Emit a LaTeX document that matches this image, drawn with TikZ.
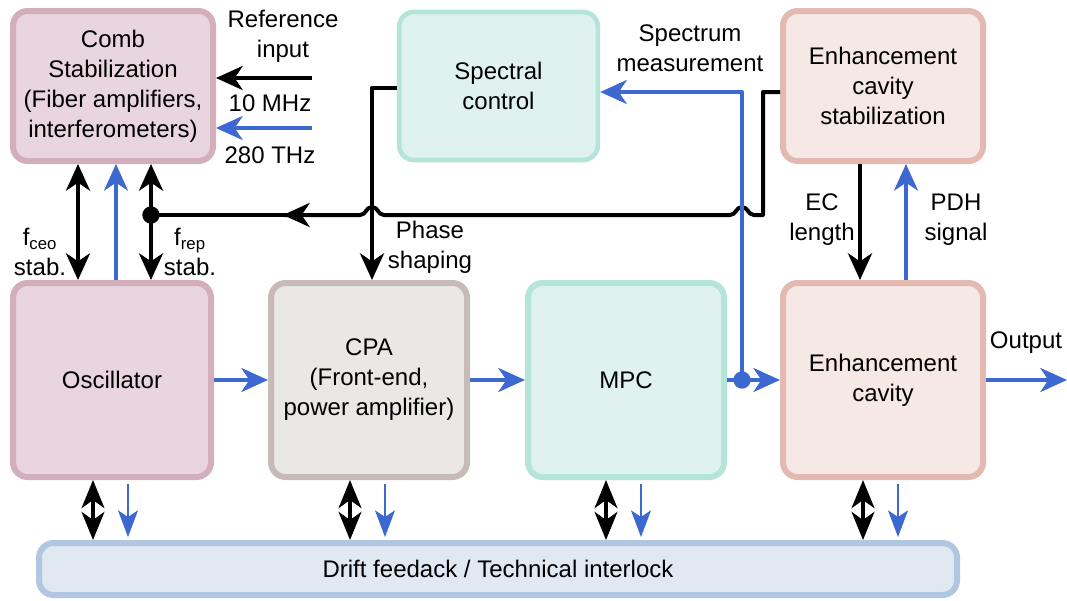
\documentclass[tikz,border=0pt]{standalone}
\usepackage{fontspec}
\setmainfont{Liberation Sans}
\usetikzlibrary{arrows.meta, positioning, calc}

\definecolor{combfill}{HTML}{E8D5DD}
\definecolor{combline}{HTML}{D5AEBE}
\definecolor{tealfill}{HTML}{DFF2EE}
\definecolor{tealline}{HTML}{B5E4D8}
\definecolor{ecfill}{HTML}{F5E8E5}
\definecolor{ecline}{HTML}{E3BAB1}
\definecolor{cpafill}{HTML}{E9E8E6}
\definecolor{cpaline}{HTML}{C7BBB9}
\definecolor{driftfill}{HTML}{E0E8F2}
\definecolor{driftline}{HTML}{B1C6E0}
\definecolor{sigblue}{HTML}{3D68D0}

\tikzset{
  box/.style={draw, rounded corners=11pt, line width=4.5pt, align=center,
    inner sep=0pt, font=\fontsize{18}{22.5}\selectfont},
  lbl/.style={align=center, inner sep=0pt, font=\fontsize{18}{22.5}\selectfont},
  blk/.style={line width=3pt, -{Stealth[length=20pt,width=18pt,inset=6pt]}},
  blkboth/.style={line width=3pt, {Stealth[length=20pt,width=18pt,inset=6pt]}-{Stealth[length=20pt,width=18pt,inset=6pt]}},
  blu/.style={sigblue, line width=2.5pt, -{Stealth[length=20pt,width=18pt,inset=6pt]}},
  bluthin/.style={sigblue, line width=1.5pt, -{Stealth[length=20pt,width=15pt,inset=5pt]}},
  drift/.style={line width=3pt, {Stealth[length=21pt,width=17pt,inset=6pt]}-{Stealth[length=21pt,width=17pt,inset=6pt]}},
}

\begin{document}
\begin{tikzpicture}[x=0.75pt, y=-0.75pt]
\useasboundingbox (0,0) rectangle (1067,600);

% Blocks
\node[box, draw=combline, fill=combfill, minimum width=150pt, minimum height=112.5pt] (comb) at (113,86)
  {Comb\\Stabilization\\(Fiber amplifiers,\\interferometers)};
\node[box, line width=3.5pt, draw=tealline, fill=tealfill, minimum width=149pt, minimum height=111pt] (spec) at (498.5,86)
  {Spectral\\control};
\node[box, draw=ecline, fill=ecfill, minimum width=150pt, minimum height=112.5pt] (ecs) at (883,86)
  {Enhancement\\cavity\\stabilization};
\node[box, draw=combline, fill=combfill, minimum width=148.5pt, minimum height=145.5pt] (osc) at (112,380)
  {Oscillator};
\node[box, draw=cpaline, fill=cpafill, minimum width=147pt, minimum height=145.5pt] (cpa) at (369,380)
  {CPA\\(Front-end,\\power amplifier)};
\node[box, draw=tealline, fill=tealfill, minimum width=147pt, minimum height=145.5pt] (mpc) at (626,380)
  {MPC};
\node[box, draw=ecline, fill=ecfill, minimum width=150pt, minimum height=145.5pt] (ec) at (883,380)
  {Enhancement\\cavity};
\node[box, draw=driftline, fill=driftfill, minimum width=688.5pt, minimum height=39pt] (drift) at (498,569)
  {Drift feedack / Technical interlock};

% Reference input
\coordinate (refin) at (312,78);
\coordinate (optin) at (312,128);
\draw[blk] (refin) -- (refin -| comb.east);
\draw[blu] (optin) -- (optin -| comb.east);
\node[lbl] (reflbl) at (283,36) {Reference\\input};
\node[lbl] (mhz) at (270,103) {10 MHz};
\node[lbl] (thz) at (270,155) {280 THz};

% Comb <-> oscillator
\draw[blkboth] (78,0 |- comb.south) -- (78,0 |- osc.north);
\draw[blu] (116,0 |- osc.north) -- (116,0 |- comb.south);
\draw[blkboth] (151,0 |- comb.south) -- (151,0 |- osc.north);
\coordinate (frepdot) at (151,215);
\node[lbl] (fceo) at (40,252) {f\textsubscript{ceo}\\stab.};
\node[lbl] (frep) at (190,252) {f\textsubscript{rep}\\stab.};

% EC length feedback to f_rep (with hops)
\coordinate (ecsturn) at (763,92);
\draw[line width=3pt, line join=round] (ecs.west |- ecsturn) -- (ecsturn) -- (763,215) -- (754,215)
  .. controls (748,215) and (748,207) .. (742,207) .. controls (736,207) and (736,215) .. (730,215)
  -- (384,215) .. controls (378,215) and (378,207) .. (372,207) .. controls (366,207) and (366,215) .. (360,215)
  -- (285,215);
\draw[blk] (310,215) -- (283,215);
\draw[line width=3pt] (290,215) -- (frepdot);
\fill (frepdot) circle (6.5pt);

% Spectral control -> phase shaping
\coordinate (phturn) at (372,88);
\draw[blk, line join=round] (spec.west |- phturn) -- (phturn) -- (phturn |- cpa.north);
\node[lbl] (phase) at (430,247) {Phase\\shaping};

% Spectrum measurement
\coordinate (tap) at (742,380);
\draw[blu, line join=round] (tap) -- (742,92) -- (spec.east |- 742,92);
\node[lbl] (specm) at (690,48) {Spectrum\\measurement};

% Main beam path
\draw[blu] (osc.east) -- (cpa.west);
\draw[blu] (cpa.east) -- (mpc.west);
\draw[blu] (mpc.east) -- (ec.west);
\fill[sigblue] (tap) circle (6.5pt);
\coordinate (out) at (1067,380);
\draw[blu] (ec.east) -- (out);
\node[lbl] (outlbl) at (1026,343) {Output};

% EC stabilization
\draw[blk] (860,0 |- ecs.south) -- (860,0 |- ec.north);
\draw[blu] (906,0 |- ec.north) -- (906,0 |- ecs.south);
\node[lbl] (eclen) at (822,220) {EC\\length};
\node[lbl] (pdh) at (956,220) {PDH\\signal};

% Drift feedback / interlock
\foreach \bx/\blk in {93/osc, 350/cpa, 606/mpc, 863/ec}{
  \draw[drift] (\bx,0 |- \blk.south) -- (\bx,0 |- drift.north);
  \draw[bluthin] ($(\bx,0 |- \blk.south)+(35,4)$) -- ($(\bx,0 |- drift.north)+(35,-3)$);
}
\end{tikzpicture}
\end{document}
